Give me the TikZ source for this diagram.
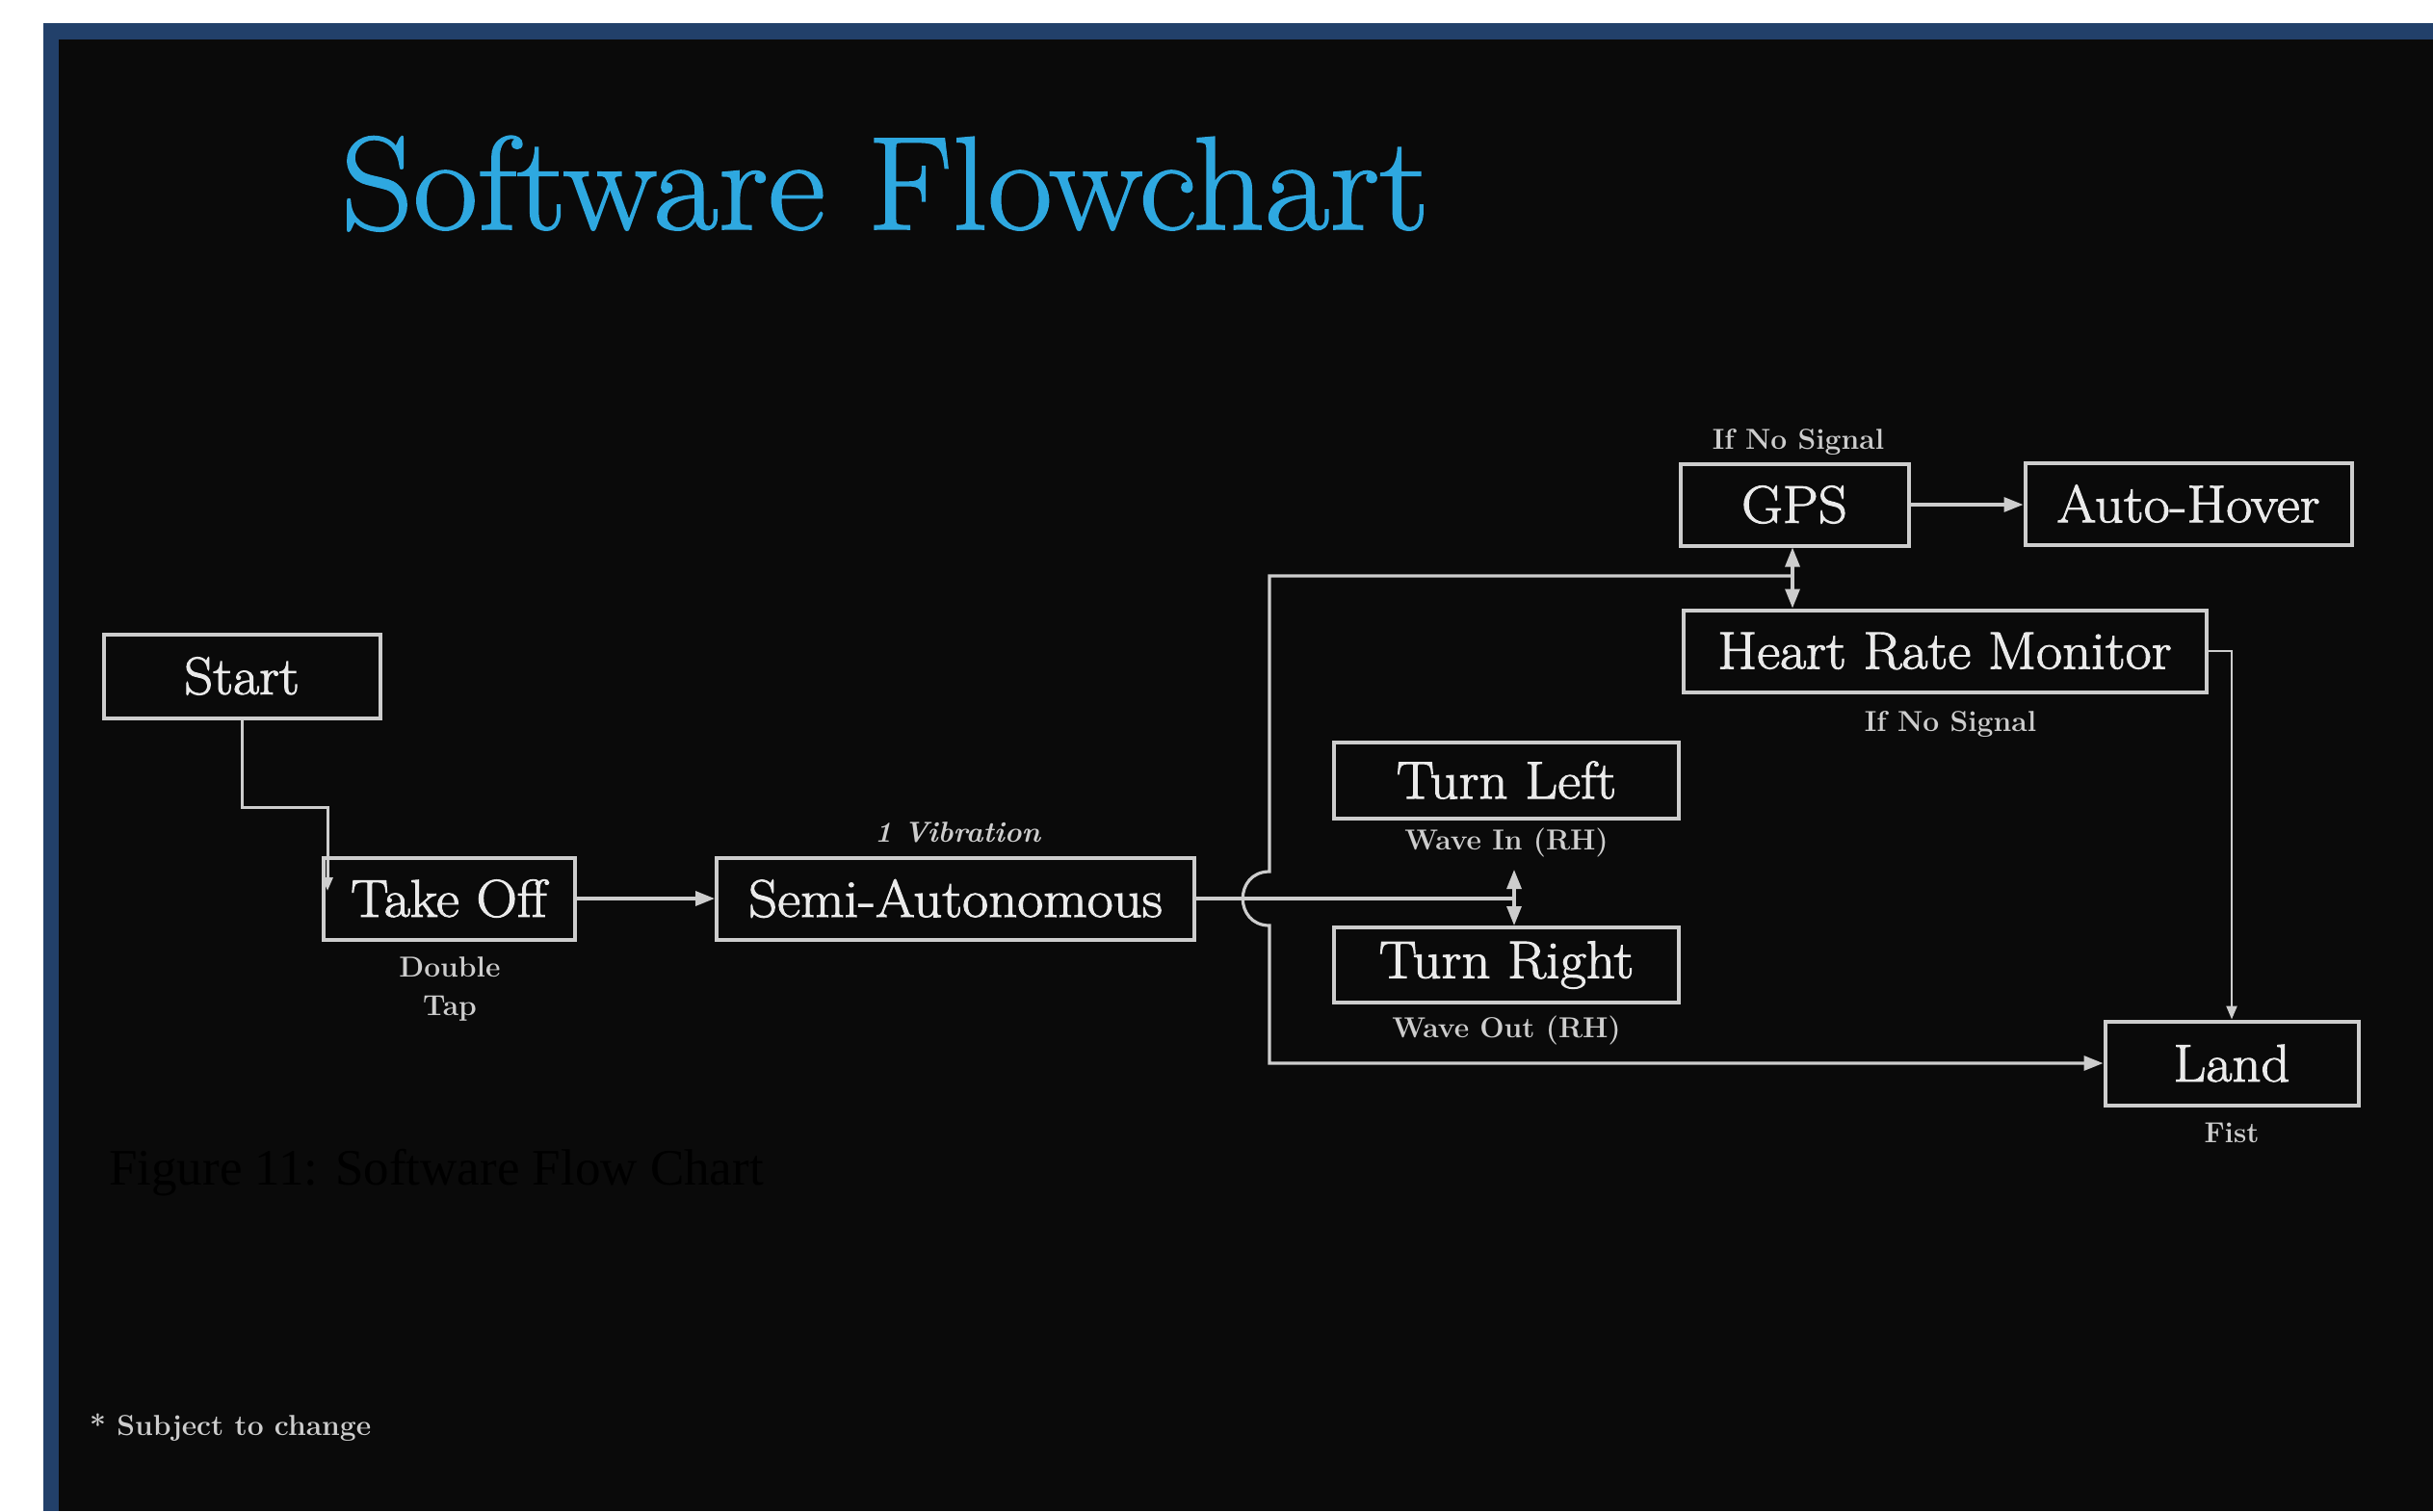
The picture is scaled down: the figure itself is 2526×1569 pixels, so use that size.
\documentclass[tikz,border=0pt]{standalone}
\usepackage{fontspec}
\newfontfamily\timesf{Liberation Serif}
\newfontfamily\titlef[FakeBold=1.2,FakeStretch=1.06]{Latin Modern Roman}
\newfontfamily\boxf[FakeBold=1.8,FakeStretch=1.07]{Latin Modern Roman}
\usetikzlibrary{arrows.meta}
\definecolor{bg}{HTML}{0A0A0A}
\definecolor{frameblue}{HTML}{22406A}
\definecolor{titleblue}{HTML}{2EA8E0}
\definecolor{ln}{HTML}{CDCDCD}
\definecolor{txt}{HTML}{EAEAEA}
\begin{document}
\begin{tikzpicture}[x=1pt,y=-1pt,
  box/.style={draw=ln, line width=4pt, fill=bg, text=txt, font=\boxf\fontsize{55}{60}\selectfont, inner sep=0pt, anchor=center},
  lbl/.style={text=ln, font=\bfseries\fontsize{30}{34}\selectfont, inner sep=0pt},
  conn/.style={draw=ln, line width=3.2pt},
  arr/.style={conn, -{Triangle[length=20pt,width=15pt]}},
  arrthin/.style={draw=ln, line width=2.4pt, -{Triangle[length=14pt,width=11pt]}}
]
\useasboundingbox (0,0) rectangle (2526,1569);
\fill[white] (0,0) rectangle (2526,1569);
\fill[frameblue] (45,24) rectangle (2526,1569);
\fill[bg] (61,41) rectangle (2526,1569);

% title
\node[anchor=base west, inner sep=0pt, text=titleblue, font=\titlef\fontsize{138}{140}\selectfont] (title) at (354,238) {Software Flowchart};

% boxes
\node[box, minimum width=287pt, minimum height=87pt] (start) at (251,702) {Start};
\node[box, minimum width=261pt, minimum height=85pt] (takeoff) at (466,933) {Take Off};
\node[box, minimum width=496pt, minimum height=85pt] (semi) at (992,933) {Semi-Autonomous};
\node[box, minimum width=237pt, minimum height=85pt] (gps) at (1863,524) {GPS};
\node[box, minimum width=339pt, minimum height=85pt] (hover) at (2272,523) {Auto-Hover};
\node[box, minimum width=543pt, minimum height=85pt] (hrm) at (2019,676) {Heart Rate Monitor};
\node[box, minimum width=358pt, minimum height=79pt] (tleft) at (1564,810) {Turn Left};
\node[box, minimum width=358pt, minimum height=78pt] (tright) at (1564,1002) {Turn Right};
\node[box, minimum width=263pt, minimum height=87pt] (land) at (2317,1104) {Land};

% labels
\node[lbl] (l1) at (1867,459) {If No Signal};
\node[lbl] (l2) at (2025,752) {If No Signal};
\node[lbl, font=\bfseries\itshape\fontsize{30}{34}\selectfont] (l3) at (994,864) {1 Vibration};
\node[lbl] (l4) at (467,1004) {Double};
\node[lbl] (l5) at (467,1047) {Tap};
\node[lbl] (l6) at (1564,875) {Wave In (RH)};
\node[lbl] (l7) at (1564,1070) {Wave Out (RH)};
\node[lbl] (l8) at (2317,1176) {Fist};
\node[lbl, anchor=west] (note) at (93,1482) {* Subject to change};
\node[anchor=west, inner sep=0pt, font=\timesf\fontsize{53}{58}\selectfont, text=black] (cap) at (113,1218) {Figure 11: Software Flow Chart};

% connectors
\coordinate (sbend) at (340,838);
\coordinate (send) at (340,925);
\draw[arrthin, line width=3pt] (start.south) |- (sbend) -- (send);
\draw[arr] (takeoff.east) -- (semi.west);
\draw[arr] (gps.east) -- (gps.east -| hover.west);

\coordinate (j1) at (1572,933);
\coordinate (tlup) at (1572,903);
\draw[conn] (semi.east) -- (j1);
\draw[arr] (j1) -- (tlup);
\draw[arr] (j1) -- (j1 |- tright.north);

\coordinate (vtop) at (1318,598);
\coordinate (vbot) at (1318,1104);
\coordinate (j2) at (1861,598);
\draw[arr] (j2) -| (vtop) -- (1318,905) .. controls (1281,905) and (1281,961) .. (1318,961) -- (vbot) -- (land.west);
\draw[arr] (j2) -- (j2 |- gps.south);
\draw[arr] (j2) -- (j2 |- hrm.north);
\draw[arrthin] (hrm.east) -| (land.north);
\end{tikzpicture}
\end{document}
